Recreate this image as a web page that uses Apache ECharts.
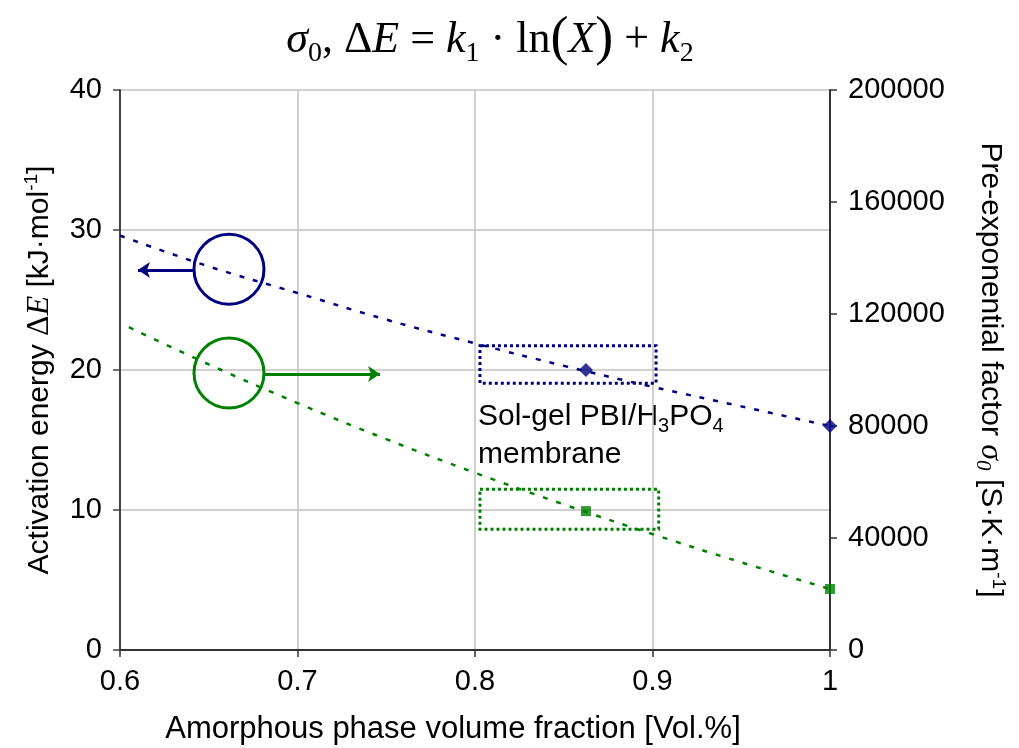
<!DOCTYPE html>
<html>
<head>
<meta charset="utf-8">
<script src="https://cdn.jsdelivr.net/npm/echarts@6/dist/echarts.min.js"></script>
<style>
  html, body { margin: 0; padding: 0; background: #fff; }
  #main { width: 1019px; height: 748px; }
</style>
</head>
<body>
<div id="main"></div>
<script>
// trend line (activation energy, left axis)
var blueFitX = [0.6, 0.65, 0.7, 0.75, 0.8, 0.85, 0.9, 0.95, 1.0];
var blueFitE = [29.6, 27.4, 25.5, 23.6, 21.9, 20.3, 18.8, 17.4, 16.0];
// trend line for pre-exponential factor (right axis)
var greenFitX = [0.605, 0.65, 0.7, 0.75, 0.8, 0.85, 0.9, 0.95, 1.0];
var greenFitS = [115300, 102000, 88200, 75300, 63300, 52000, 41400, 31300, 21800];
// measured points
var pointX = [0.8625, 1.0];
var blueE = [20, 16];
var greenS = [49600, 21800];

var xTicks = [0.6, 0.7, 0.8, 0.9, 1];
var leftTicks = [0, 10, 20, 30, 40];
var rightTicks = [0, 40000, 80000, 120000, 160000, 200000];

var NAVY = '#000080';
var GREEN = '#008000';
var SANS = 'Liberation Sans, Arial, sans-serif';
var SERIF = 'Liberation Serif, Times New Roman, serif';

function pairs(xs, ys) {
    return xs.map(function (x, i) { return [x, ys[i]] });
}

var myChart = echarts.init(document.getElementById('main'));

var nameRich = {
    n: { fontFamily: SANS, fontSize: 30, lineHeight: 36, color: '#000' },
    d: { fontFamily: SERIF, fontSize: 32, lineHeight: 36, color: '#000' },
    i: { fontFamily: SERIF, fontStyle: 'italic', fontSize: 32, lineHeight: 36, color: '#000' },
    sup: { fontFamily: SANS, fontSize: 19, lineHeight: 19, verticalAlign: 'top', color: '#000' },
    sub: { fontFamily: SERIF, fontStyle: 'italic', fontSize: 21, lineHeight: 21, verticalAlign: 'bottom', color: '#000' }
};

var option = {
    animation: false,
    grid: { left: 120, right: 189, top: 90, bottom: 98, outerBoundsMode: 'none', containLabel: false },
    graphic: [
        {
            type: 'text',
            style: {
                x: 490, y: 40,
                align: 'center', verticalAlign: 'middle',
                text: '{i|σ}{sub|0}{n|, Δ}{i|E}{n| = }{i|k}{sub|1}{n| · ln}{p|(}{i|X}{p|)}{n| + }{i|k}{sub|2}',
                rich: {
                    n: { fontFamily: SERIF, fontSize: 44, lineHeight: 56, color: '#000' },
                    i: { fontFamily: SERIF, fontStyle: 'italic', fontSize: 44, lineHeight: 56, color: '#000' },
                    p: { fontFamily: SERIF, fontSize: 54, lineHeight: 56, color: '#000' },
                    sub: { fontFamily: SERIF, fontSize: 28, lineHeight: 28, verticalAlign: 'bottom', color: '#000' }
                }
            }
        },
        {
            type: 'text',
            style: {
                x: 478, y: 398,
                text: '{n|Sol-gel PBI/H}{s|3}{n|PO}{s|4}\n{n|membrane}',
                rich: {
                    n: { fontFamily: SANS, fontSize: 30, lineHeight: 38, color: '#000' },
                    s: { fontFamily: SANS, fontSize: 20, lineHeight: 20, verticalAlign: 'bottom', color: '#000' }
                }
            }
        }
    ],
    xAxis: {
        type: 'value',
        min: 0.6, max: 1, interval: 0.1,
        name: 'Amorphous phase volume fraction [Vol.%]',
        nameLocation: 'middle',
        nameGap: 64,
        nameTextStyle: { fontFamily: SANS, fontSize: 31, color: '#000', padding: [0, 44, 0, 0] },
        axisLine: { lineStyle: { color: '#333', width: 2 } },
        axisTick: { length: 7, lineStyle: { color: '#333', width: 1.5 } },
        axisLabel: {
            margin: 17, fontFamily: SANS, fontSize: 29, color: '#000',
            formatter: function (v) { return xTicks.indexOf(Math.round(v * 10) / 10) >= 0 ? String(Math.round(v * 10) / 10) : '' }
        },
        splitLine: { show: true, lineStyle: { color: '#c0c0c0', width: 1.5 } }
    },
    yAxis: [
        {
            type: 'value',
            min: leftTicks[0], max: leftTicks[leftTicks.length - 1], interval: 10,
            name: '{n|Activation energy }{d|Δ}{i|E}{n| [kJ·mol}{sup|-1}{n|]}',
            nameLocation: 'middle',
            nameGap: 62,
            nameTextStyle: { rich: nameRich },
            axisLine: { show: true, lineStyle: { color: '#444', width: 2 } },
            axisTick: { show: true, length: 7, lineStyle: { color: '#444', width: 1.5 } },
            axisLabel: { margin: 18, fontFamily: SANS, fontSize: 29, color: '#000' },
            splitLine: { show: true, lineStyle: { color: '#c0c0c0', width: 1.5 } }
        },
        {
            type: 'value',
            position: 'right',
            min: rightTicks[0], max: rightTicks[rightTicks.length - 1], interval: 40000,
            name: '{n|Pre-exponential factor }{i|σ}{sub|0}{n| [S·K·m}{sup|-1}{n|]}',
            nameLocation: 'middle',
            nameRotate: -90,
            nameGap: 142,
            nameTextStyle: { rich: nameRich },
            axisLine: { show: true, lineStyle: { color: '#333', width: 2 } },
            axisTick: { show: true, length: 7, lineStyle: { color: '#333', width: 1.5 } },
            axisLabel: {
                margin: 18, fontFamily: SANS, fontSize: 29, color: '#000',
                formatter: function (v) { return String(v) }
            },
            splitLine: { show: false }
        }
    ],
    series: [
        {
            name: 'ΔE fit',
            type: 'line',
            yAxisIndex: 0,
            data: pairs(blueFitX, blueFitE),
            smooth: 0.4,
            symbol: 'none',
            lineStyle: { color: NAVY, width: 2.5, type: [5, 9] },
            markPoint: {
                silent: true,
                symbol: 'circle',
                symbolSize: 70,
                label: { show: false },
                itemStyle: { color: 'rgba(0,0,0,0)', borderColor: NAVY, borderWidth: 3 },
                data: [{ coord: [0.6614, 27.2] }]
            },
            markLine: {
                silent: true,
                symbol: ['none', 'arrow'],
                symbolSize: [12, 12],
                label: { show: false },
                lineStyle: { color: NAVY, width: 3, type: 'solid' },
                data: [[{ coord: [0.6423, 27.14] }, { coord: [0.6101, 27.14] }]]
            },
            markArea: {
                silent: true,
                itemStyle: { color: 'rgba(0,0,0,0)', borderColor: NAVY, borderWidth: 3, borderType: [3, 3] },
                data: [[{ coord: [0.8028, 21.74] }, { coord: [0.902, 19.05] }]]
            }
        },
        {
            name: 'σ0 fit',
            type: 'line',
            yAxisIndex: 1,
            data: pairs(greenFitX, greenFitS),
            smooth: 0.4,
            symbol: 'none',
            lineStyle: { color: GREEN, width: 2.5, type: [5, 9] },
            markPoint: {
                silent: true,
                symbol: 'circle',
                symbolSize: 70,
                label: { show: false },
                itemStyle: { color: 'rgba(0,0,0,0)', borderColor: GREEN, borderWidth: 3 },
                data: [{ coord: [0.6614, 98950] }]
            },
            markLine: {
                silent: true,
                symbol: ['none', 'arrow'],
                symbolSize: [12, 12],
                label: { show: false },
                lineStyle: { color: GREEN, width: 3, type: 'solid' },
                data: [[{ coord: [0.6811, 98550] }, { coord: [0.7465, 98550] }]]
            },
            markArea: {
                silent: true,
                itemStyle: { color: 'rgba(0,0,0,0)', borderColor: GREEN, borderWidth: 3, borderType: [3, 3] },
                data: [[{ coord: [0.8028, 57400] }, { coord: [0.9035, 43100] }]]
            }
        },
        {
            name: 'ΔE',
            type: 'scatter',
            yAxisIndex: 0,
            clip: false,
            symbol: 'diamond',
            symbolSize: 14,
            itemStyle: { color: NAVY },
            data: pairs(pointX, blueE)
        },
        {
            name: 'σ0',
            type: 'scatter',
            yAxisIndex: 1,
            clip: false,
            symbol: 'rect',
            symbolSize: 10,
            itemStyle: { color: GREEN },
            data: pairs(pointX, greenS)
        }
    ]
};

myChart.setOption(option);
</script>
</body>
</html>
